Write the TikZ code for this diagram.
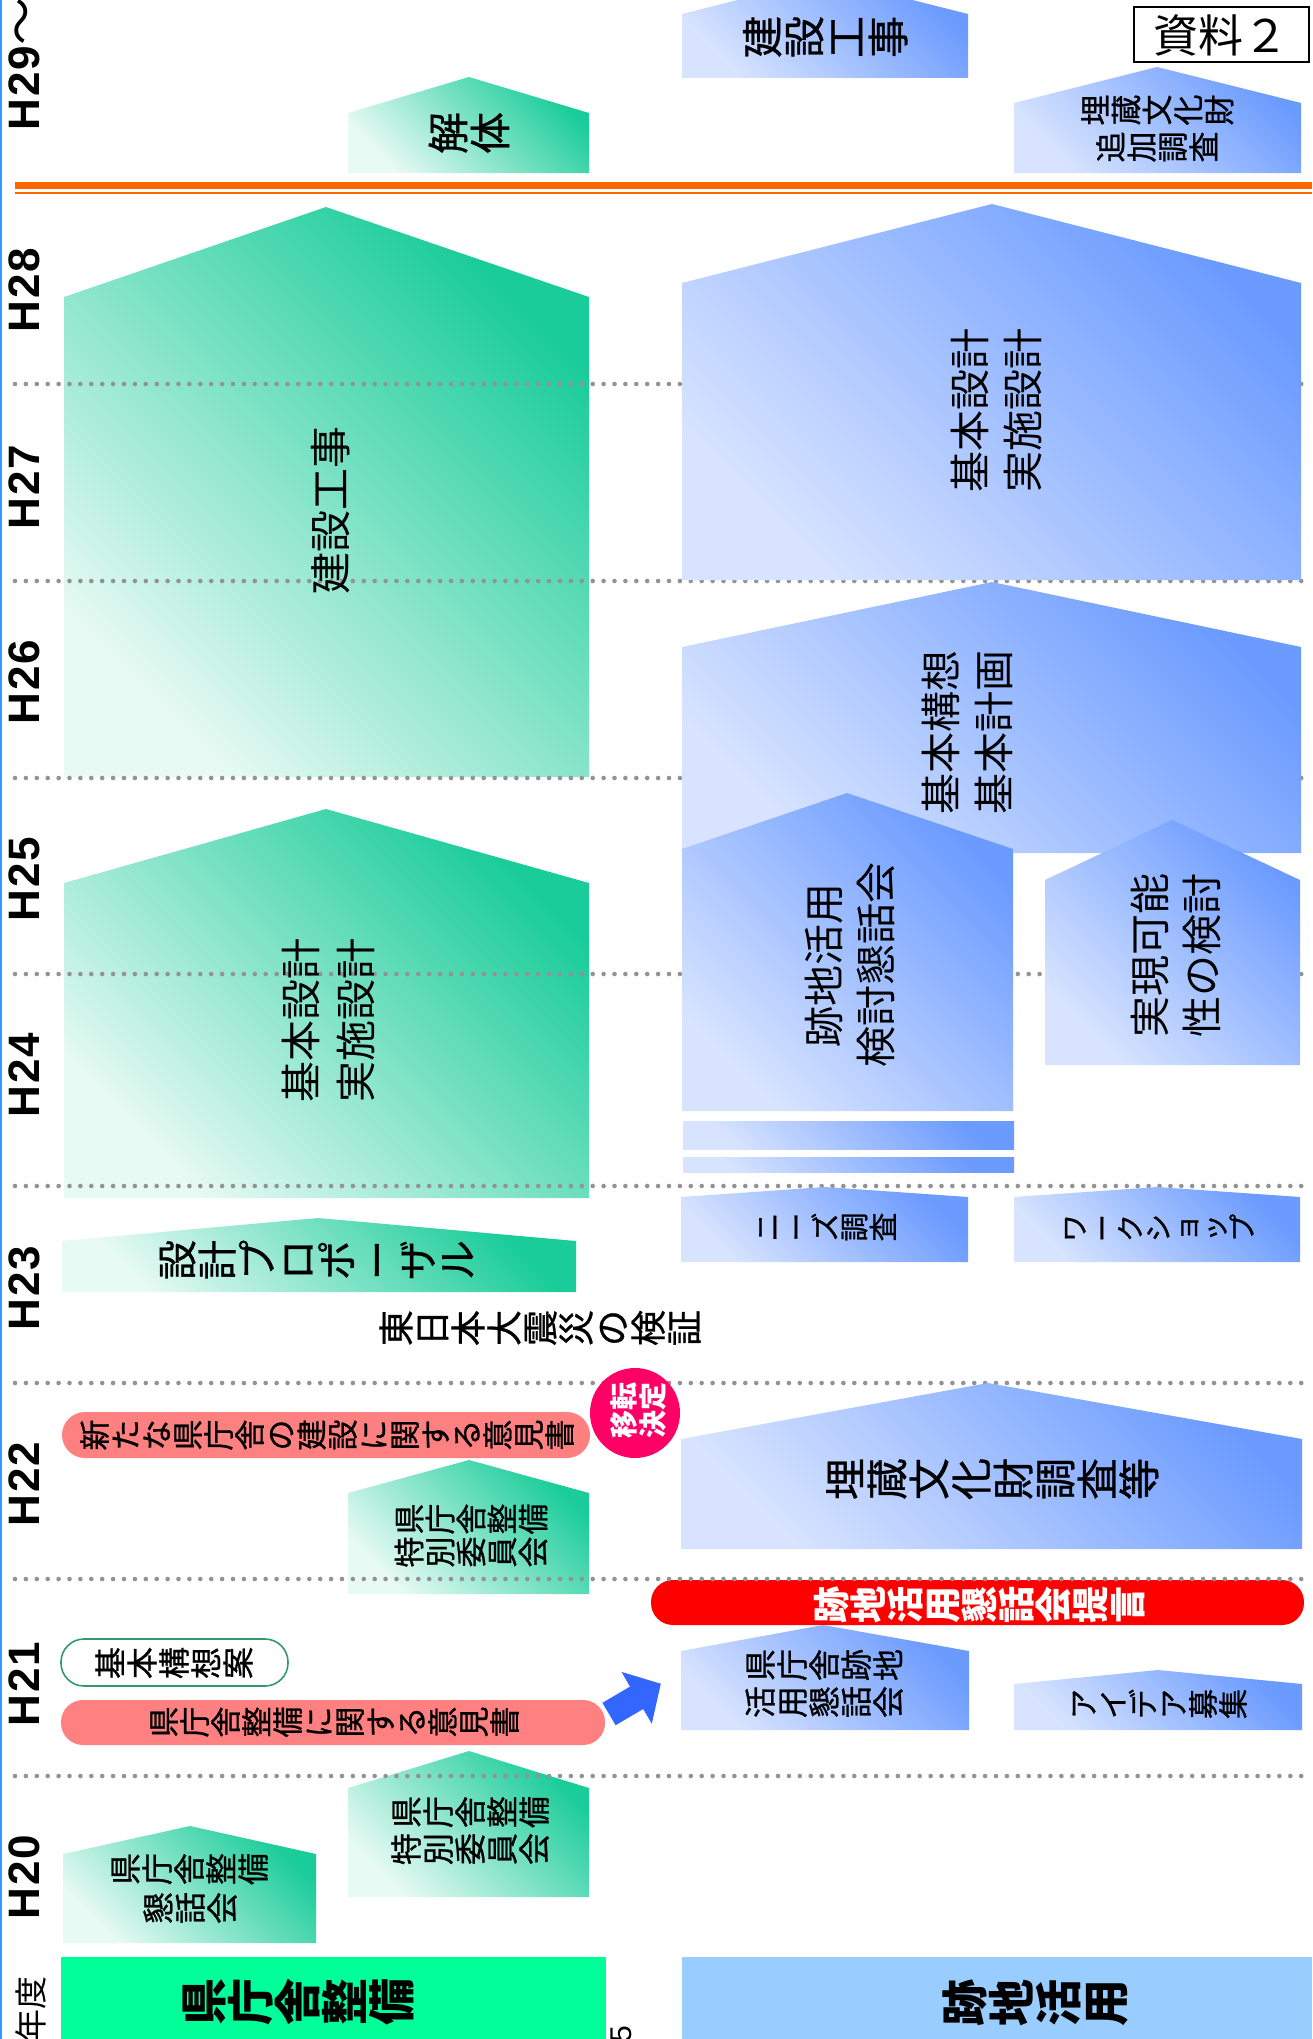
\documentclass[tikz,border=0pt]{standalone}
\usepackage{fontspec}
\setmainfont{Noto Sans CJK JP}
\newfontfamily\jpm{Noto Sans CJK JP}[FakeBold=0.8]
\newfontfamily\yrfont{Liberation Sans}
\definecolor{gD}{HTML}{19CC99}
\definecolor{gL}{HTML}{E8FAF4}
\definecolor{bD}{HTML}{6B9BFF}
\definecolor{bL}{HTML}{D8E4FF}
\definecolor{dotc}{HTML}{939393}
\definecolor{pinkp}{HTML}{FF8080}
\definecolor{magc}{HTML}{FF0066}
\definecolor{orng}{HTML}{FF6600}
\definecolor{arrc}{HTML}{3366FF}
\definecolor{hdrg}{HTML}{00FF99}
\definecolor{hdrb}{HTML}{99CCFF}
\definecolor{edgeb}{HTML}{3399FF}
\definecolor{pillg}{HTML}{339966}
\makeatletter
\newcommand\tv[1]{\vbox{\offinterlineskip\@tfor\tv@c:=#1\do{\hbox to 1em{\hss\vrule height .88em depth .12em width 0pt\tv@c\hss}}}}
\makeatother
\newcommand\fsz[1]{\fontsize{#1}{#1}\selectfont}
\begin{document}
\begin{tikzpicture}[x=0.5pt,y=-0.5pt,
  gshape/.style={top color=gD, bottom color=gL, shading angle=-45},
  bshape/.style={top color=bD, bottom color=bL, shading angle=-45},
  vt/.style={rotate=90, inner sep=0pt},
  hz/.style={rotate=90, inner sep=0pt, align=center},
  yr/.style={rotate=90, inner sep=0pt, font=\yrfont\bfseries\fsz{22pt}},
  dotl/.style={dotc, line width=2.3pt, dash pattern=on 0pt off 5.45pt, line cap=round},
]
\useasboundingbox (0,0) rectangle (1312,2039);
\fill[white] (0,0) rectangle (1312,2039);
\draw[edgeb, line width=1pt] (1,0) -- (1,2039);

% green boxes
\shade[gshape] (348,173) -- (348,113) -- (469,77) -- (589,113) -- (589,173) -- cycle;
\shade[gshape] (64,777) -- (64,297) -- (326,207) -- (589,297) -- (589,777) -- cycle;
\shade[gshape] (64,1198) -- (64,883) -- (326,809) -- (589,883) -- (589,1198) -- cycle;
\shade[gshape] (62,1292) -- (62,1241) -- (318,1218) -- (576,1241) -- (576,1292) -- cycle;
\shade[gshape] (348,1594) -- (348,1493) -- (469,1460) -- (589,1493) -- (589,1594) -- cycle;
\shade[gshape] (348,1897) -- (348,1788) -- (469,1751) -- (589,1788) -- (589,1897) -- cycle;
\shade[gshape] (63,1943) -- (63,1854) -- (190,1826) -- (316,1854) -- (316,1943) -- cycle;

% pills
\fill[pinkp, rounded corners=11.5pt] (62,1412) rectangle (590,1458);
\draw[pillg, line width=0.8pt, fill=white, rounded corners=11.5pt] (61,1639) rectangle (288,1686);
\fill[pinkp, rounded corners=11pt] (61,1700) rectangle (605,1745);
\fill[red, rounded corners=11pt] (651,1580) rectangle (1304,1625);

% dotted year lines
\foreach \yy in {384,581,778,974,1186,1383,1579,1776}
  \draw[dotl] (15,\yy) -- (1312,\yy);

% blue boxes
\shade[bshape] (682,78) -- (682,14) -- (825,-22) -- (968,14) -- (968,78) -- cycle;
\shade[bshape] (1014,173) -- (1014,103) -- (1157,67) -- (1301,103) -- (1301,173) -- cycle;
\shade[bshape] (682,580) -- (682,283) -- (992,204) -- (1301,283) -- (1301,580) -- cycle;
\shade[bshape] (682,853) -- (682,647) -- (992,582) -- (1301,647) -- (1301,853) -- cycle;
\shade[bshape] (682,1111) -- (682,849) -- (847,793) -- (1013,849) -- (1013,1111) -- cycle;
\shade[bshape] (1045,1065) -- (1045,880) -- (1172,820) -- (1300,880) -- (1300,1065) -- cycle;
\shade[bshape] (683,1121) rectangle (1014,1149);
\shade[bshape] (683,1157) rectangle (1014,1172);
\shade[bshape] (681,1262) -- (681,1197) -- (825,1187) -- (968,1197) -- (968,1262) -- cycle;
\shade[bshape] (1014,1262) -- (1014,1197) -- (1157,1187) -- (1300,1197) -- (1300,1262) -- cycle;
\shade[bshape] (681,1549) -- (681,1439) -- (988,1383) -- (1302,1439) -- (1302,1549) -- cycle;
\shade[bshape] (681,1730) -- (681,1651) -- (823,1625) -- (969,1651) -- (969,1730) -- cycle;
\shade[bshape] (1014,1730) -- (1014,1684) -- (1158,1670) -- (1302,1684) -- (1302,1730) -- cycle;

% circle and arrow
\fill[magc] (635,1413) circle[radius=45];
\fill[arrc] (615.6,1725.2) -- (602.4,1702.8) -- (630,1686.6) -- (621.5,1671.9) -- (660.8,1683.7) -- (651.8,1723.7) -- (643.2,1709) -- cycle;

% orange double line
\draw[orng, line width=3.75pt] (15,185.5) -- (1312,185.5);
\draw[orng, line width=1.2pt] (15,193) -- (1312,193);

% headers
\fill[hdrg] (61,1957) rectangle (606,2039);
\fill[hdrb] (682,1957) rectangle (1312,2039);

% document tag
\draw[line width=1.25pt, fill=white] (1134,7) rectangle (1309,62);
\node[inner sep=0pt, font=\fsz{22.5pt}] (tag) at (1221,35) {資料２};

% year labels
\node[yr, anchor=west] (y29) at (24,131) {H\kern1pt2\kern1pt9{\normalfont\fsz{24pt}～}};
\node[yr] (y28) at (24,290) {H\kern1pt2\kern1pt8};
\node[yr] (y27) at (24,487) {H\kern1pt2\kern1pt7};
\node[yr] (y26) at (24,682) {H\kern1pt2\kern1pt6};
\node[yr] (y25) at (24,879) {H\kern1pt2\kern1pt5};
\node[yr] (y24) at (24,1075) {H\kern1pt2\kern1pt4};
\node[yr] (y23) at (24,1288) {H\kern1pt2\kern1pt3};
\node[yr] (y22) at (24,1484) {H\kern1pt2\kern1pt2};
\node[yr] (y21) at (24,1684) {H\kern1pt2\kern1pt1};
\node[yr] (y20) at (24,1877) {H\kern1pt2\kern1pt0};
\node[vt, font=\fsz{16.5pt}] (nendo) at (31,2009) {年度};
\node[vt, font=\yrfont\fsz{15pt}] (pg) at (621,2034) {5};

% header texts
\node[vt, font=\bfseries\fsz{23.5pt}] (hg) at (298,2002) {\tv{県庁舎整備}};
\node[vt, font=\bfseries\fsz{23.5pt}] (hb) at (1035,2003) {\tv{跡地活用}};

% left column texts
\node[vt, font=\jpm\fsz{21pt}] (t1) at (469,133) {\tv{解体}};
\node[hz, font=\fsz{21pt}] (t2) at (331,510) {建設工事};
\node[hz, font=\fontsize{20.5pt}{27.5pt}\selectfont] (t3) at (328,1020) {基本設計\\実施設計};
\node[vt, font=\jpm\fsz{20pt}] (t4) at (317,1260) {\tv{設計プロポーザル}};
\node[vt, font=\jpm\fsz{15.5pt}] (t5a) at (471,1519) {\tv{県庁舎整備}};
\node[vt, font=\jpm\fsz{15.5pt}] (t5b) at (471,1552) {\tv{特別委員会}};
\node[vt, font=\jpm\fsz{16pt}] (t6a) at (470,1812) {\tv{県庁舎整備}};
\node[vt, font=\jpm\fsz{16pt}] (t6b) at (470,1849) {\tv{特別委員会}};
\node[vt, font=\jpm\fsz{16pt}] (t7a) at (189,1869) {\tv{県庁舎整備}};
\node[vt, font=\jpm\fsz{16pt}] (t7b) at (190,1908) {\tv{懇話会}};
\node[vt, font=\jpm\fsz{15.5pt}] (t8) at (327,1435) {\tv{新たな県庁舎の建設に関する意見書}};
\node[hz, text=white, font=\bfseries\fontsize{14pt}{14.5pt}\selectfont] (t9) at (638,1410) {移転\\決定};
\node[vt, font=\jpm\fsz{16pt}] (t10) at (174,1663) {\tv{基本構想案}};
\node[vt, font=\jpm\fsz{15.5pt}] (t11) at (334,1722) {\tv{県庁舎整備に関する意見書}};
\node[vt, font=\jpm\fsz{18pt}] (t24) at (540,1328) {\tv{東日本大震災の検証}};

% right column texts
\node[vt, font=\jpm\fsz{21pt}] (t22) at (825,37) {\tv{建設工事}};
\node[vt, font=\jpm\fsz{15.5pt}] (t23a) at (1157,110) {\tv{埋蔵文化財}};
\node[vt, font=\jpm\fsz{15.5pt}] (t23b) at (1157,147) {\tv{追加調査}};
\node[hz, font=\fontsize{20.5pt}{26.5pt}\selectfont] (t12) at (996,410) {基本設計\\実施設計};
\node[hz, font=\fontsize{20.5pt}{26.5pt}\selectfont] (t13) at (967,732) {基本構想\\基本計画};
\node[hz, font=\fontsize{20.5pt}{26pt}\selectfont] (t14) at (850,965) {跡地活用\\検討懇話会};
\node[hz, font=\fontsize{20.5pt}{26pt}\selectfont] (t15) at (1176,955) {実現可能\\性の検討};
\node[vt, font=\jpm\fsz{14.5pt}] (t16) at (825,1227) {\tv{ニーズ調査}};
\node[vt, font=\jpm\fsz{14pt}] (t17) at (1158,1228) {\tv{ワークショップ}};
\node[vt, font=\jpm\fsz{21pt}] (t18) at (992,1479) {\tv{埋蔵文化財調査等}};
\node[vt, text=white, font=\bfseries\fsz{18.5pt}] (t19) at (979,1605) {\tv{跡地活用懇話会提言}};
\node[vt, font=\jpm\fsz{16pt}] (t20a) at (824,1665) {\tv{県庁舎跡地}};
\node[vt, font=\jpm\fsz{16pt}] (t20b) at (824,1702) {\tv{活用懇話会}};
\node[vt, font=\jpm\fsz{15pt}] (t21) at (1158,1704) {\tv{アイデア募集}};
\end{tikzpicture}
\end{document}
